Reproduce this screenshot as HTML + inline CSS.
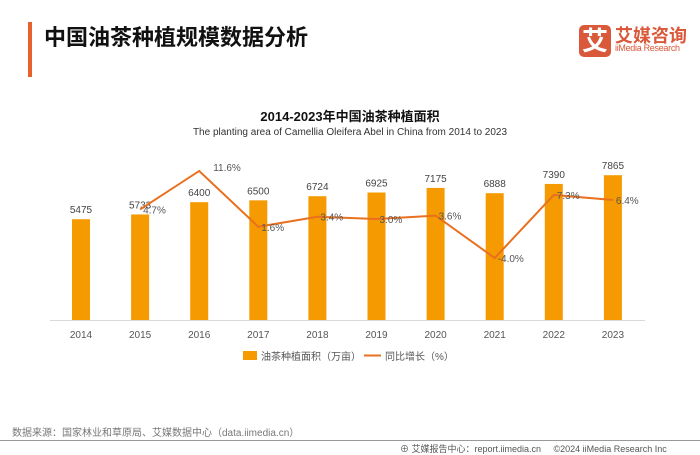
<!DOCTYPE html>
<html><head><meta charset="utf-8">
<style>
body{margin:0;width:700px;height:455px;background:#fff;position:relative;overflow:hidden;font-family:"Liberation Sans","Noto Sans CJK SC",sans-serif;}
.abs{position:absolute;white-space:nowrap}
</style></head><body>
<div class="abs" style="left:28px;top:22px;width:4px;height:55px;background:#e8612c"></div>
<div class="abs" style="left:44px;top:20px;font-size:22px;font-weight:bold;color:#111">中国油茶种植规模数据分析</div>
<div class="abs" style="left:579px;top:25px;width:32px;height:32px;background:#d9593a;border-radius:5px;color:#fff;font-size:26px;font-weight:bold;text-align:center;line-height:32px">艾</div>
<div class="abs" style="left:615px;top:22px;font-size:18px;font-weight:bold;color:#d9593a">艾媒咨询</div>
<div class="abs" style="left:615px;top:43px;font-size:9px;letter-spacing:-0.3px;color:#d9593a">iiMedia Research</div>
<div class="abs" style="left:0;width:700px;text-align:center;top:106px;font-size:13px;font-weight:bold;color:#111">2014-2023年中国油茶种植面积</div>
<div class="abs" style="left:0;width:700px;text-align:center;top:127px;font-size:10px;color:#333">The planting area of Camellia Oleifera Abel in China from 2014 to 2023</div>
<svg class="abs" style="left:0;top:0" width="700" height="455">
<g id="g"></g>
</svg>
<div class="abs" style="left:12px;top:424px;font-size:10px;color:#777">数据来源：国家林业和草原局、艾媒数据中心（data.iimedia.cn）</div>
<div class="abs" style="left:0;top:440px;width:700px;height:1px;background:#999"></div>
<div class="abs" style="left:400px;top:442px;font-size:9px;color:#555">⊕ 艾媒报告中心：report.iimedia.cn &nbsp;&nbsp;&nbsp;&nbsp;©2024 iiMedia Research Inc</div>
<script>
const years=["2014","2015","2016","2017","2018","2019","2020","2021","2022","2023"];
const areaValues=[5475,5733,6400,6500,6724,6925,7175,6888,7390,7865];
const growthYears=["2015","2016","2017","2018","2019","2020","2021","2022","2023"];
const growthValues=[4.7,11.6,1.6,3.4,3.0,3.6,-4.0,7.3,6.4];
const growthLabels=["4.7%","11.6%","1.6%","3.4%","3.0%","3.6%","-4.0%","7.3%","6.4%"];
const NS="http://www.w3.org/2000/svg";
const g=document.getElementById('g');
const x=i=>81+i*59.1;
const yBar=v=>320-v*0.01841;
const yLine=v=>235.7-v*5.58;
function mk(t,a){const e=document.createElementNS(NS,t);for(const k in a)e.setAttribute(k,a[k]);g.appendChild(e);return e;}
const ax=mk('line',{x1:50,x2:645,y1:320.5,y2:320.5,stroke:'#d9d9d9'});


years.forEach((yr,i)=>{
 const b=mk('rect',{x:x(i)-9,y:yBar(areaValues[i]),width:18,height:320-yBar(areaValues[i]),fill:'#f59a00'});
 
 
 const l=mk('text',{x:x(i),y:yBar(areaValues[i])-6,'text-anchor':'middle','font-size':10,fill:'#444'});
 l.textContent=areaValues[i];
 
 
 const t=mk('text',{x:x(i),y:338,'text-anchor':'middle','font-size':10,fill:'#555'});
 t.textContent=yr;
 
 
});
const pts=growthValues.map((v,i)=>[x(years.indexOf(growthYears[i])),yLine(v)]);
const pl=mk('polyline',{points:pts.map(p=>p.join(',')).join(' '),fill:'none',stroke:'#e8701f','stroke-width':2});


pts.forEach((p,i)=>{
 const dx=i==1?14:3, dy=i==1?0:4;
 const t=mk('text',{x:p[0]+dx,y:p[1]+dy,'font-size':10,fill:'#555'});
 t.textContent=growthLabels[i];
 
 
});
const lb=mk('rect',{x:243,y:351,width:14,height:9,fill:'#f59a00'});


const lt=mk('text',{x:261,y:360,'font-size':10,fill:'#555'});lt.textContent='油茶种植面积（万亩）';


const ll=mk('line',{x1:364,x2:381,y1:355.5,y2:355.5,stroke:'#e8701f','stroke-width':2});


const lt2=mk('text',{x:385,y:360,'font-size':10,fill:'#555'});lt2.textContent='同比增长（%）';


</script>
</body></html>
